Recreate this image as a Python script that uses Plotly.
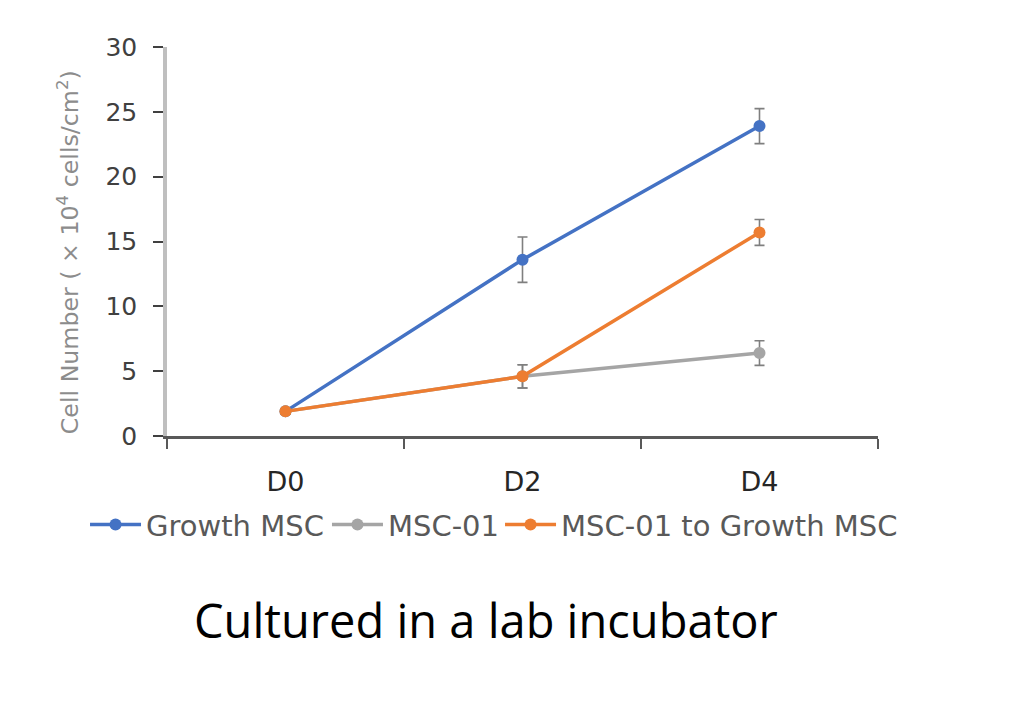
import plotly.graph_objects as go

days = ["D0", "D2", "D4"]
series_names = ["Growth MSC", "MSC-01", "MSC-01 to Growth MSC"]
growth_msc = [1.9, 13.6, 23.9]
growth_msc_err = [0.2, 1.75, 1.35]
msc01 = [1.9, 4.6, 6.4]
msc01_err = [0.2, 0.9, 0.95]
msc01_to_growth = [1.9, 4.6, 15.7]
msc01_to_growth_err = [0.2, 0.9, 1.0]
y_ticks = [0, 5, 10, 15, 20, 25, 30]

colors = ["#4472C4", "#A5A5A5", "#ED7D31"]
values = [growth_msc, msc01, msc01_to_growth]
errors = [growth_msc_err, msc01_err, msc01_to_growth_err]
legend_ids = ["legend", "legend2", "legend3"]
legend_x = [-0.1153, 0.225, 0.4684]

fig = go.Figure()
for name, v, e, c, lg in zip(series_names, values, errors, colors, legend_ids):
    fig.add_trace(go.Scatter(
        x=days, y=v, name=name, mode="lines+markers",
        line=dict(color=c, width=3.5),
        marker=dict(color=c, size=12),
        error_y=dict(type="data", array=e, visible=True, color="#7f7f7f",
                     thickness=1.6, width=5),
        legend=lg,
    ))

font_family = "'DejaVu Sans', sans-serif"
legend_common = dict(orientation="h", xanchor="left", y=-0.228, yanchor="middle",
                     font=dict(size=29, color="#595959"), itemwidth=51,
                     tracegroupgap=0, borderwidth=0, bgcolor="rgba(0,0,0,0)")
legends = {lg: dict(legend_common, x=lx) for lg, lx in zip(legend_ids, legend_x)}

fig.update_layout(
    width=1024, height=708,
    margin=dict(l=159, r=154, t=39, b=280),
    paper_bgcolor="white", plot_bgcolor="white",
    font=dict(family=font_family, color="#404040"),
    showlegend=True,
    xaxis=dict(
        type="category", range=[-0.5, 2.5], tickson="boundaries",
        showline=True, linecolor="#595959", linewidth=2.5,
        ticks="outside", ticklen=10, tickwidth=1.5, tickcolor="#595959",
        tickfont=dict(size=27, color="#262626"), ticklabelstandoff=20,
        showgrid=False, zeroline=False,
    ),
    yaxis=dict(
        range=[0, 30], tickvals=y_ticks,
        showline=True, linecolor="#BFBFBF", linewidth=3.5,
        ticks="outside", ticklen=10, tickwidth=1.5, tickcolor="#404040",
        tickfont=dict(size=25, color="#404040"), ticklabelstandoff=11,
        showgrid=False, zeroline=False,
    ),
    annotations=[
        dict(
            text="Cell Number ( × 10<sup>4</sup> cells/cm<sup>2</sup>)",
            xref="paper", yref="paper", x=-0.139, y=0.473, textangle=-90,
            xanchor="center", yanchor="middle", showarrow=False,
            font=dict(family=font_family, size=23.7, color="#8c8c8c"),
        ),
        dict(
            text="Cultured in a lab incubator", xref="paper", yref="paper",
            x=0.449, y=-0.472, xanchor="center", yanchor="middle", showarrow=False,
            font=dict(family="'Open Sans', 'Noto Sans', sans-serif", size=47, color="#000000"),
        ),
    ],
    **legends,
)

fig.write_html("out.html")
